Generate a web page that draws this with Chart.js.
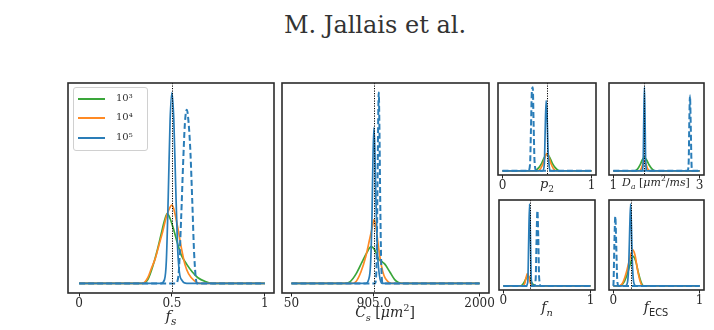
<!DOCTYPE html>
<html><head><meta charset="utf-8">
<script src="https://cdn.jsdelivr.net/npm/chart.js@4/dist/chart.umd.min.js"></script>
<style>
html,body{margin:0;padding:0;background:#fff;width:714px;height:330px;overflow:hidden;}
#wrap{position:relative;width:714px;height:330px;}
#wrap canvas{position:absolute;}
.txt{position:absolute;font-family:"DejaVu Serif",serif;color:#2a2a2a;white-space:nowrap;line-height:1;transform:translateX(-50%);}
sub,sup{font-size:70%;line-height:0;}
#legend{position:absolute;left:73px;top:87px;width:73px;height:62px;border:1px solid #d0d0d0;border-radius:3px;background:rgba(255,255,255,0.85);z-index:5;}
.lrow{position:absolute;left:0;height:14px;}
.lsw{position:absolute;left:4px;width:27px;height:2px;}
.ltx{position:absolute;left:42px;top:-6px;font-family:"DejaVu Serif",serif;font-size:10px;color:#333;}
</style>
</head><body><div id="wrap"></div>
<script>
// ---------------- data ----------------
const seriesNames = ['10³', '10⁴', '10⁵'];

// f_s panel
const fsTicks = [0, 0.5, 1];
const fsTickLabels = ['0', '0.5', '1'];
const fsTruth = 0.5;
const fsGreenX = [0, 0.34, 0.37, 0.40, 0.42, 0.44, 0.46, 0.475, 0.49, 0.51, 0.53, 0.55, 0.58, 0.61, 0.64, 0.68, 0.72, 1];
const fsGreenY = [0, 0, 0.02, 0.10, 0.17, 0.25, 0.33, 0.366, 0.34, 0.28, 0.21, 0.15, 0.10, 0.06, 0.03, 0.01, 0, 0];
const fsOrangeX = [0, 0.34, 0.37, 0.39, 0.41, 0.43, 0.45, 0.47, 0.49, 0.50, 0.51, 0.53, 0.55, 0.57, 0.59, 0.62, 0.65, 1];
const fsOrangeY = [0, 0, 0.03, 0.08, 0.13, 0.20, 0.27, 0.35, 0.40, 0.41, 0.39, 0.30, 0.19, 0.10, 0.05, 0.015, 0, 0];
const fsBlueX = [0, 0.44, 0.46, 0.47, 0.48, 0.49, 0.50, 0.51, 0.52, 0.53, 0.54, 0.555, 0.58, 1];
const fsBlueY = [0, 0, 0.02, 0.12, 0.45, 0.85, 1.0, 0.86, 0.52, 0.20, 0.06, 0.015, 0, 0];
const fsDashX = [0, 0.52, 0.535, 0.55, 0.56, 0.57, 0.58, 0.59, 0.60, 0.61, 0.62, 0.635, 1];
const fsDashY = [0, 0, 0.04, 0.35, 0.62, 0.84, 0.91, 0.84, 0.68, 0.42, 0.15, 0, 0];

// C_s panel
const csTicks = [50, 905, 2000];
const csTickLabels = ['50', '905.0', '2000'];
const csTruth = 905;
const csGreenX = [50, 600, 660, 720, 780, 830, 875, 920, 950, 985, 1020, 1070, 1120, 1160, 1220, 2000];
const csGreenY = [0, 0, 0.01, 0.05, 0.11, 0.16, 0.193, 0.17, 0.13, 0.115, 0.10, 0.06, 0.02, 0.005, 0, 0];
const csOrangeX = [50, 680, 720, 770, 820, 860, 890, 905, 925, 950, 980, 1010, 1050, 1090, 2000];
const csOrangeY = [0, 0, 0.01, 0.06, 0.14, 0.23, 0.30, 0.333, 0.30, 0.20, 0.10, 0.04, 0.01, 0, 0];
const csBlueX = [50, 820, 850, 870, 885, 895, 905, 915, 925, 940, 960, 990, 2000];
const csBlueY = [0, 0, 0.02, 0.10, 0.35, 0.65, 0.816, 0.70, 0.45, 0.18, 0.05, 0, 0];
const csDashX = [50, 915, 930, 940, 948, 955, 962, 970, 980, 995, 2000];
const csDashY = [0, 0, 0.06, 0.40, 0.80, 1.0, 0.82, 0.45, 0.12, 0, 0];

// p_2 panel
const p2Ticks = [0, 1];
const p2TickLabels = ['0', '1'];
const p2Truth = 0.5;
const p2GreenX = [0, 0.36, 0.40, 0.44, 0.47, 0.50, 0.53, 0.56, 0.60, 0.64, 1];
const p2GreenY = [0, 0, 0.03, 0.09, 0.16, 0.20, 0.16, 0.09, 0.03, 0, 0];
const p2OrangeX = [0, 0.40, 0.43, 0.46, 0.48, 0.50, 0.52, 0.54, 0.57, 0.60, 1];
const p2OrangeY = [0, 0, 0.03, 0.10, 0.17, 0.21, 0.17, 0.10, 0.03, 0, 0];
const p2BlueX = [0, 0.45, 0.47, 0.48, 0.49, 0.50, 0.51, 0.525, 0.54, 1];
const p2BlueY = [0, 0, 0.08, 0.50, 0.84, 0.70, 0.30, 0.05, 0, 0];
const p2DashX = [0, 0.29, 0.31, 0.32, 0.33, 0.34, 0.35, 0.36, 0.38, 1];
const p2DashY = [0, 0, 0.08, 0.50, 0.95, 1.0, 0.55, 0.12, 0, 0];

// D_a panel
const daTicks = [1, 3];
const daTickLabels = ['1', '3'];
const daTruth = 1.72;
const daGreenX = [1, 1.5, 1.56, 1.62, 1.67, 1.72, 1.77, 1.83, 1.9, 1.96, 3];
const daGreenY = [0, 0, 0.02, 0.07, 0.13, 0.16, 0.13, 0.07, 0.02, 0, 0];
const daOrangeX = [1, 1.6, 1.65, 1.69, 1.72, 1.75, 1.79, 1.84, 3];
const daOrangeY = [0, 0, 0.03, 0.09, 0.12, 0.09, 0.03, 0, 0];
const daBlueX = [1, 1.66, 1.69, 1.705, 1.72, 1.735, 1.75, 1.78, 3];
const daBlueY = [0, 0, 0.08, 0.60, 1.0, 0.62, 0.10, 0, 0];
const daDashX = [1, 2.72, 2.745, 2.76, 2.775, 2.79, 2.81, 2.83, 3];
const daDashY = [0, 0, 0.10, 0.60, 0.90, 0.62, 0.10, 0, 0];

// f_n panel
const fnTicks = [0, 1];
const fnTickLabels = ['0', '1'];
const fnTruth = 0.3;
const fnGreenX = [0, 0.20, 0.23, 0.26, 0.28, 0.30, 0.32, 0.35, 0.38, 1];
const fnGreenY = [0, 0, 0.03, 0.09, 0.12, 0.10, 0.05, 0.01, 0, 0];
const fnOrangeX = [0, 0.22, 0.245, 0.26, 0.275, 0.29, 0.305, 0.32, 0.34, 1];
const fnOrangeY = [0, 0, 0.03, 0.10, 0.15, 0.12, 0.05, 0.01, 0, 0];
const fnBlueX = [0, 0.26, 0.28, 0.29, 0.30, 0.31, 0.32, 0.34, 1];
const fnBlueY = [0, 0, 0.05, 0.55, 1.0, 0.60, 0.08, 0, 0];
const fnDashX = [0, 0.35, 0.37, 0.38, 0.39, 0.40, 0.41, 0.43, 1];
const fnDashY = [0, 0, 0.08, 0.55, 0.92, 0.60, 0.10, 0, 0];

// f_ECS panel
const feTicks = [0, 1];
const feTickLabels = ['0', '1'];
const feTruth = 0.2;
const feGreenX = [0, 0.08, 0.12, 0.16, 0.20, 0.23, 0.26, 0.29, 0.32, 0.35, 1];
const feGreenY = [0, 0, 0.04, 0.14, 0.28, 0.36, 0.30, 0.16, 0.05, 0, 0];
const feOrangeX = [0, 0.07, 0.11, 0.15, 0.19, 0.225, 0.25, 0.28, 0.31, 0.34, 1];
const feOrangeY = [0, 0, 0.04, 0.16, 0.33, 0.44, 0.38, 0.20, 0.06, 0, 0];
const feBlueX = [0, 0.14, 0.165, 0.18, 0.19, 0.20, 0.21, 0.22, 0.235, 0.26, 1];
const feBlueY = [0, 0, 0.05, 0.30, 0.70, 1.0, 0.72, 0.30, 0.05, 0, 0];
const feDashX = [0, 0.003, 0.012, 0.023, 0.034, 0.045, 0.06, 1];
const feDashY = [0, 0.05, 0.50, 0.85, 0.50, 0.08, 0, 0];

// ---------------- styling / layout ----------------
const GREEN = '#3aa63a', ORANGE = '#ff8a24', BLUE = '#2a7db8';
const wrap = document.getElementById('wrap');

function mk(gx, gy, ox, oy, bx, by, dx, dy) {
  return [
    {x: gx, y: gy, color: GREEN, dash: false, order: 3},
    {x: ox, y: oy, color: ORANGE, dash: false, order: 2},
    {x: dx, y: dy, color: BLUE, dash: true, order: 1},
    {x: bx, y: by, color: BLUE, dash: false, order: 0}
  ];
}

const panels = [
  {box: [68, 83, 206, 210], min: -0.06, max: 1.05, ticks: fsTicks, labels: fsTickLabels, truth: fsTruth,
   series: mk(fsGreenX, fsGreenY, fsOrangeX, fsOrangeY, fsBlueX, fsBlueY, fsDashX, fsDashY)},
  {box: [282, 83, 207, 210], min: -47.5, max: 2097.5, ticks: csTicks, labels: csTickLabels, truth: csTruth,
   series: mk(csGreenX, csGreenY, csOrangeX, csOrangeY, csBlueX, csBlueY, csDashX, csDashY)},
  {box: [498, 83, 98, 92], min: -0.05, max: 1.05, ticks: p2Ticks, labels: p2TickLabels, truth: p2Truth,
   series: mk(p2GreenX, p2GreenY, p2OrangeX, p2OrangeY, p2BlueX, p2BlueY, p2DashX, p2DashY)},
  {box: [609, 83, 95, 92], min: 0.9, max: 3.1, ticks: daTicks, labels: daTickLabels, truth: daTruth,
   series: mk(daGreenX, daGreenY, daOrangeX, daOrangeY, daBlueX, daBlueY, daDashX, daDashY)},
  {box: [499, 200, 96, 90], min: -0.05, max: 1.05, ticks: fnTicks, labels: fnTickLabels, truth: fnTruth,
   series: mk(fnGreenX, fnGreenY, fnOrangeX, fnOrangeY, fnBlueX, fnBlueY, fnDashX, fnDashY)},
  {box: [609, 200, 95, 90], min: -0.05, max: 1.05, ticks: feTicks, labels: feTickLabels, truth: feTruth,
   series: mk(feGreenX, feGreenY, feOrangeX, feOrangeY, feBlueX, feBlueY, feDashX, feDashY)}
];

function framePlugin(truth) {
  return {
    id: 'frame',
    afterDatasetsDraw(chart) {
      const {ctx, chartArea: a, scales: {x}} = chart;
      ctx.save();
      const px = Math.round(x.getPixelForValue(truth)) + 0.5;
      ctx.strokeStyle = '#000';
      ctx.lineWidth = 1;
      ctx.setLineDash([1.2, 1.3]);
      ctx.beginPath();
      ctx.moveTo(px, a.top);
      ctx.lineTo(px, a.bottom);
      ctx.stroke();
      ctx.setLineDash([]);
      ctx.strokeStyle = '#2b2b2b';
      ctx.lineWidth = 1.6;
      ctx.strokeRect(a.left, a.top, a.right - a.left, a.bottom - a.top);
      ctx.restore();
    }
  };
}

function makePanel(p) {
  const PAD = 20, TOP = 3, AXH = 20;
  const c = document.createElement('canvas');
  c.width = p.box[2] + 2 * PAD;
  c.height = p.box[3] + TOP + AXH;
  c.style.left = (p.box[0] - PAD) + 'px';
  c.style.top = (p.box[1] - TOP) + 'px';
  c.style.width = c.width + 'px';
  c.style.height = c.height + 'px';
  wrap.appendChild(c);
  new Chart(c, {
    type: 'line',
    data: {
      datasets: p.series.map(s => ({
        data: s.x.map((v, i) => ({x: v, y: s.y[i]})),
        borderColor: s.color,
        borderWidth: s.dash ? 2.0 : 1.7,
        borderDash: s.dash ? [6, 3] : [],
        pointRadius: 0,
        fill: false,
        cubicInterpolationMode: 'monotone',
        order: s.order
      }))
    },
    options: {
      responsive: false, animation: false, devicePixelRatio: 1,
      layout: {padding: {left: PAD, right: PAD, top: TOP, bottom: 0}},
      plugins: {legend: {display: false}, tooltip: {enabled: false}},
      scales: {
        x: {
          type: 'linear', min: p.min, max: p.max,
          afterBuildTicks: sc => { sc.ticks = p.ticks.map(v => ({value: v})); },
          afterFit: sc => { sc.height = AXH; },
          grid: {display: true, drawOnChartArea: false, drawTicks: true, tickLength: 3.5, tickWidth: 1, tickColor: '#222'},
          border: {display: false},
          ticks: {
            autoSkip: false, maxRotation: 0, minRotation: 0, padding: 0,
            font: {family: 'DejaVu Serif', size: 12}, color: '#2a2a2a',
            callback: v => { const i = p.ticks.findIndex(t => Math.abs(t - v) < 1e-9); return i >= 0 ? p.labels[i] : ''; }
          }
        },
        y: {type: 'linear', display: false, min: -0.05, max: 1.05}
      }
    },
    plugins: [framePlugin(p.truth)]
  });
}
panels.forEach(makePanel);

// ---------------- text ----------------
function addText(html, cx, top, size, color) {
  const d = document.createElement('div');
  d.className = 'txt';
  d.style.left = cx + 'px';
  d.style.top = top + 'px';
  d.style.fontSize = size + 'px';
  if (color) d.style.color = color;
  d.innerHTML = html;
  wrap.appendChild(d);
}
addText('M. Jallais et al.', 375, 13, 24, '#333');
addText('<i>f</i><sub><i>s</i></sub>', 171, 309, 15);
addText('<i>C</i><sub><i>s</i></sub> [<i>μm</i><sup>2</sup>]', 385, 305, 14);
addText('<i>p</i><sub>2</sub>', 547, 177, 13);
addText('<i>D</i><sub><i>a</i></sub> [<i>μm</i><sup>2</sup>/<i>ms</i>]', 656, 177, 11);
addText('<i>f</i><sub><i>n</i></sub>', 547, 300, 14);
addText('<i>f</i><sub style="font-family:\'DejaVu Sans\',sans-serif">ECS</sub>', 656, 300, 14);

// legend
const lg = document.createElement('div');
lg.id = 'legend';
const lcolors = [GREEN, ORANGE, BLUE];
seriesNames.forEach((n, i) => {
  const r = document.createElement('div');
  r.className = 'lrow';
  r.style.top = (10 + i * 19.3) + 'px';
  r.innerHTML = '<div class="lsw" style="background:' + lcolors[i] + '"></div><div class="ltx">' + n + '</div>';
  lg.appendChild(r);
});
wrap.appendChild(lg);
</script>
</body></html>
